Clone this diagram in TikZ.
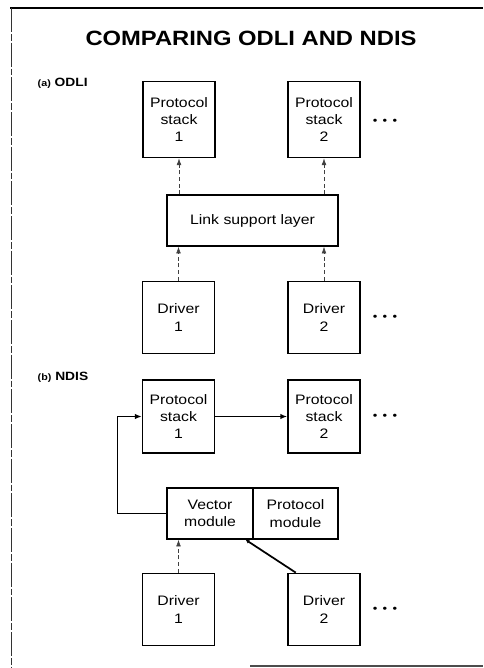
\documentclass[tikz,border=0pt]{standalone}
\usepackage{fontspec}
\setmainfont{Liberation Sans}[FakeStretch=1.15]
\usetikzlibrary{arrows.meta, positioning, calc}
\tikzset{
    box/.style={
        rectangle, draw, line width=1.3pt, minimum width=54pt, minimum height=54pt,
        align=center, inner sep=1pt, font=\fontsize{10.3}{13}\selectfont
    },
    layerbox/.style={box, minimum width=128pt, minimum height=38pt},
    modbox/.style={box, minimum width=64pt, minimum height=38pt},
    arrow/.style={-{Latex[length=5pt,width=4pt]}, line width=1.3pt},
    thinarrow/.style={-{Latex[length=5pt,width=4pt]}, line width=0.8pt},
    dasharrow/.style={-{Latex[length=5pt,width=3.5pt]}, densely dashed, thin, black!75},
    more/.style={font=\fontsize{8.5}{10}\selectfont},
    tag/.style={anchor=west, font=\bfseries\fontsize{9}{11}\selectfont},
    frame/.style={line width=1.3pt},
}
\newcommand{\moredots}{\textbullet\hspace{4pt}\textbullet\hspace{4pt}\textbullet}

\begin{document}
\begin{tikzpicture}[x=0.75pt, y=-0.75pt]
    \useasboundingbox (0,0) rectangle (483,668);

    % frame of the page
    \draw[frame] (10,8) -- (483,8);
    \draw[thin, black!80, dash pattern=on 18pt off 1.5pt on 5pt off 1.5pt] (11,8) -- (11,668);
    \draw[frame, black!70] (250,666) -- (483,666);

    \node[font=\bfseries\fontsize{15.5}{18}\selectfont] (title) at (251,38) {COMPARING ODLI AND NDIS};

    % (a) ODLI
    \node[tag] (taga) at (33,83) {{\fontsize{7}{9}\selectfont(a)} ODLI};

    \node[box, minimum height=57pt] (ps1a) at (179,119.5) {Protocol\\stack\\1};
    \node[box, minimum height=57pt] (ps2a) at (324,119.5) {Protocol\\stack\\2};
    \node[more] (dotsa1) at (385,122) {\moredots};

    \node[layerbox] (lsl) at (252.5,220.5) {Link support layer};

    \node[box] (drv1a) at (178.5,317.5) {Driver\\1};
    \node[box] (drv2a) at (324,317.5) {Driver\\2};
    \node[more] (dotsa2) at (385,318) {\moredots};

    \draw[dasharrow] (lsl.north -| ps1a.south) -- (ps1a.south);
    \draw[dasharrow] (lsl.north -| ps2a.south) -- (ps2a.south);
    \draw[dasharrow] (drv1a.north) -- (drv1a.north |- lsl.south);
    \draw[dasharrow] (drv2a.north) -- (drv2a.north |- lsl.south);

    % (b) NDIS
    \node[tag] (tagb) at (33,377) {{\fontsize{7}{9}\selectfont(b)} NDIS};

    \node[box, minimum height=55pt] (ps1b) at (178.5,416.5) {Protocol\\stack\\1};
    \node[box, minimum height=55pt] (ps2b) at (324,416.5) {Protocol\\stack\\2};
    \node[more] (dotsb1) at (385,417) {\moredots};

    \node[modbox] (vec) at (210,513.5) {Vector\\module};
    \node[modbox, minimum width=63.5pt] (pmod) at (295.5,513.5) {Protocol\\module};

    \node[box] (drv1b) at (178.5,609.5) {Driver\\1};
    \node[box] (drv2b) at (324,609.5) {Driver\\2};
    \node[more] (dotsb2) at (385,610) {\moredots};

    \draw[arrow] (ps1b.east) -- (ps2b.west);
    \draw[thinarrow] (vec.west) -- ++(-49,0) |- (ps1b.west);
    \draw[dasharrow] (drv1b.north) -- (drv1b.north |- vec.south);
    \draw[arrow, -{Latex[length=3pt,width=3pt]}] ([xshift=6.5pt]drv2b.north west) -- ([xshift=-6pt]vec.south east);
\end{tikzpicture}
\end{document}
